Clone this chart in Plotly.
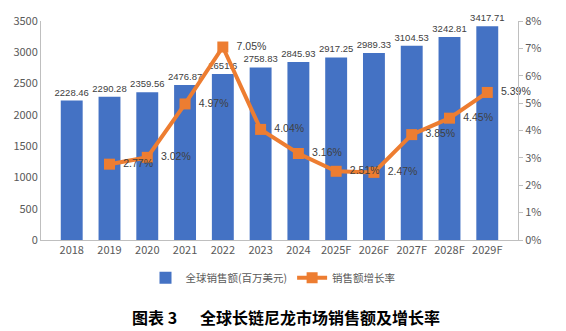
import plotly.graph_objects as go

years = ["2018", "2019", "2020", "2021", "2022", "2023", "2024",
         "2025F", "2026F", "2027F", "2028F", "2029F"]
sales = [2228.46, 2290.28, 2359.56, 2476.87, 2651.6, 2758.83, 2845.93,
         2917.25, 2989.33, 3104.53, 3242.81, 3417.71]
growth = [None, 2.77, 3.02, 4.97, 7.05, 4.04, 3.16, 2.51, 2.47, 3.85, 4.45, 5.39]

sales_text = [f"{v:g}" for v in sales]
growth_text = ["" if g is None else f"\u00a0\u00a0{g:.2f}%" for g in growth]
growth_frac = [None if g is None else g / 100 for g in growth]

BLUE = "#4472C4"
ORANGE = "#ED7D31"
FONT = "Noto Sans CJK SC, Noto Sans, sans-serif"
LABEL_FONT = "Liberation Sans, Arial, sans-serif"

fig = go.Figure()
fig.add_trace(go.Bar(
    x=years, y=sales, name="全球销售额(百万美元)",
    marker=dict(color=BLUE, line=dict(width=0)),
    width=0.58,
    text=sales_text, textposition="outside", constraintext="none",
    textfont=dict(size=9.5, color="#404040", family=LABEL_FONT),
    cliponaxis=False,
))
fig.add_trace(go.Scatter(
    x=years, y=growth_frac, name="销售额增长率", yaxis="y2",
    mode="lines+markers+text",
    line=dict(color=ORANGE, width=4),
    marker=dict(symbol="square", size=11, color=ORANGE),
    text=growth_text, textposition="middle right",
    textfont=dict(size=10.5, color="#404040", family=LABEL_FONT),
    cliponaxis=False,
))

W, H = 566, 331
L, R, T, B = 41, 48, 19, 91
pw = W - L - R
ph = H - T - B


def px_x(x):
    return (x - L) / pw


def px_y(y):
    return (H - B - y) / ph


fig.update_layout(
    width=W, height=H,
    margin=dict(l=L, r=R, t=T, b=B),
    paper_bgcolor="white", plot_bgcolor="white",
    font=dict(family=FONT, size=11, color="#595959"),
    showlegend=True,
    legend=dict(
        orientation="h", x=px_x(273), xanchor="center",
        y=px_y(278), yanchor="middle",
        font=dict(size=10.5, color="#595959"),
        itemwidth=30, tracegroupgap=0,
    ),
    xaxis=dict(
        showline=True, linecolor="#BFBFBF", linewidth=1,
        showgrid=False, ticks="", tickfont=dict(size=11, color="#595959"),
        fixedrange=True,
    ),
    yaxis=dict(
        range=[0, 3500], dtick=500, showgrid=False,
        showline=True, linecolor="#BFBFBF", linewidth=1,
        ticks="", tickfont=dict(size=11, color="#595959"),
        zeroline=False,
    ),
    yaxis2=dict(
        overlaying="y", side="right", range=[0, 0.08], dtick=0.01,
        tickformat=".0%", showgrid=False, zeroline=False,
        showline=True, linecolor="#BFBFBF", linewidth=1,
        ticks="outside", ticklen=4, tickcolor="#BFBFBF",
        tickfont=dict(size=11, color="#595959"),
    ),
    annotations=[
        dict(text="<b>图表 3</b>", xref="paper", yref="paper",
             x=px_x(130), y=px_y(318), xanchor="left", yanchor="middle",
             showarrow=False, font=dict(size=16, color="#000000",
                                        family="Noto Sans CJK SC")),
        dict(text="<b>全球长链尼龙市场销售额及增长率</b>", xref="paper", yref="paper",
             x=px_x(198), y=px_y(318), xanchor="left", yanchor="middle",
             showarrow=False, font=dict(size=16, color="#000000",
                                        family="Noto Sans CJK SC")),
    ],
)

fig.write_html("out.html")
